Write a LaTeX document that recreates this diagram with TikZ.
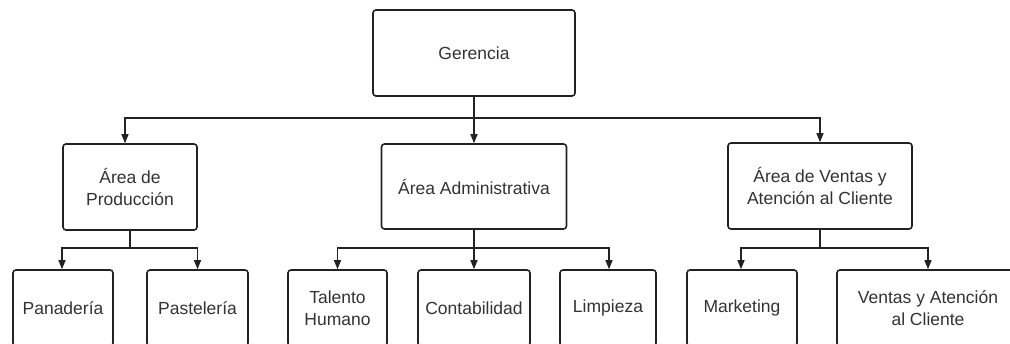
\documentclass[tikz,border=0pt]{standalone}
\usepackage{fontspec}
\setmainfont{Liberation Sans}
\usetikzlibrary{arrows.meta}
\definecolor{ln}{HTML}{222222}
\definecolor{tx}{HTML}{333333}
\tikzset{
  box/.style={draw=ln, line width=1.6pt, rounded corners=3pt, fill=white,
    align=center, text=tx, font=\fontsize{17.5}{22}\selectfont, inner sep=0pt},
  lnk/.style={draw=ln, line width=1.3pt},
  arr/.style={lnk, -{Triangle[width=7pt,length=9pt]}},
}
\begin{document}
\begin{tikzpicture}[x=1pt,y=-1pt]
\useasboundingbox (0,0) rectangle (1010,343);
\clip (0,0) rectangle (1010,343);
\fill[white] (0,0) rectangle (1010,343);
% level 0
\node[box, minimum width=202pt, minimum height=86pt] (ger) at (474,53) {Gerencia};
% level 1
\node[box, minimum width=134pt, minimum height=86pt] (prod) at (130,187) {Área de\\Producción};
\node[box, minimum width=185pt, minimum height=85pt] (adm) at (474,186.5) {Área Administrativa};
\node[box, minimum width=184pt, minimum height=86pt] (vent) at (820,186) {Área de Ventas y\\Atención al Cliente};
% level 2
\node[box, minimum width=100pt, minimum height=76pt] (pan) at (63,308) {Panadería};
\node[box, minimum width=101pt, minimum height=76pt] (pas) at (197.5,308) {Pastelería};
\node[box, minimum width=99pt, minimum height=76pt] (tal) at (337.5,308) {Talento\\Humano};
\node[box, minimum width=112pt, minimum height=76pt] (con) at (474,308) {Contabilidad};
\node[box, minimum width=96pt, minimum height=76pt] (lim) at (608,308) {Limpieza};
\node[box, minimum width=110pt, minimum height=76pt] (mkt) at (742,308) {Marketing};
\node[box, minimum width=182pt, minimum height=76pt] (vac) at (928,308) {Ventas y Atención\\al Cliente};
% buses
\coordinate (b0) at (474,118);
\coordinate (b1) at (130,248);
\coordinate (b2) at (474,248);
\coordinate (b3) at (820,248);
% connectors level 0 -> 1
\draw[lnk] (ger.south) -- (b0);
\draw[arr] (b0) -| ([xshift=-5pt]prod.north);
\draw[arr] (b0) -- (adm.north);
\draw[arr] (b0) -| (vent.north);
% connectors level 1 -> 2
\draw[lnk] (prod.south) -- (b1);
\draw[arr] (b1) -| ([xshift=-1pt]pan.north);
\draw[arr] (b1) -| (pas.north);
\draw[lnk] (adm.south) -- (b2);
\draw[arr] (b2) -| (tal.north);
\draw[arr] (b2) -- (con.north);
\draw[arr] (b2) -| ([xshift=1pt]lim.north);
\draw[lnk] (vent.south) -- (b3);
\draw[arr] (b3) -| ([xshift=-1pt]mkt.north);
\draw[arr] (b3) -| (vac.north);
\end{tikzpicture}
\end{document}
